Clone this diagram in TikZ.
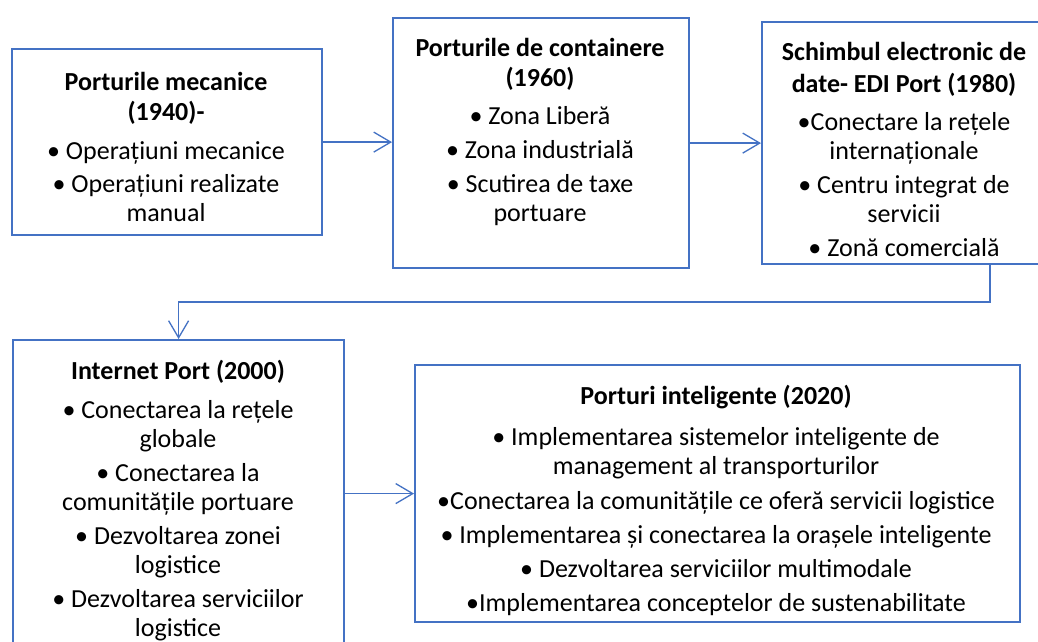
\documentclass[tikz,border=0pt]{standalone}
\usepackage{fontspec}
\setmainfont{Carlito}
\usetikzlibrary{arrows.meta}
\definecolor{obl}{HTML}{4472C4}
\tikzset{
  box/.style={draw=obl, line width=2.2pt, anchor=north west, inner sep=0pt, fill=white},
  txt/.style={anchor=north, inner sep=0pt, align=center, font=\fontsize{26}{29}\selectfont},
  conn/.style={draw=obl, line width=1.3pt, -{Straight Barb[length=17pt,width=20pt,line width=1.3pt]}}
}
\begin{document}
\begin{tikzpicture}[x=1pt,y=-1pt]
\clip (0,0) rectangle (1038,642);
\fill[white] (0,0) rectangle (1038,642);
% boxes
\node[box, minimum width=310, minimum height=186] (b1) at (11,48) {};
\node[box, minimum width=296, minimum height=250] (b2) at (392,17) {};
\node[box, minimum width=286, minimum height=242] (b3) at (761,21) {};
\node[box, minimum width=331, minimum height=330] (b4) at (12,339) {};
\node[box, minimum width=605, minimum height=257] (b5) at (414,364) {};
% texts
\node[txt] (t1) at (166,72) {\textbf{Porturile mecanice}\\[1pt]\textbf{(1940)-}\\[10pt]
  • Operațiuni mecanice\\[4pt]
  • Operațiuni realizate\\manual};
\node[txt] (t2) at (540,38) {\textbf{Porturile de containere}\\[1pt]\textbf{(1960)}\\[9pt]
  • Zona Liberă\\[5pt]
  • Zona industrială\\[5pt]
  • Scutirea de taxe\\portuare};
\node[txt] (t3) at (904,42) {\textbf{Schimbul electronic de}\\[3pt]\textbf{date- EDI Port (1980)}\\[9pt]
  •Conectare la rețele\\internaționale\\[5pt]
  • Centru integrat de\\servicii\\[5pt]
  • Zonă comercială};
\node[txt] (t4) at (178,360) {\textbf{Internet Port (2000)}\\[10pt]
  • Conectarea la rețele\\globale\\[5pt]
  • Conectarea la\\comunitățile portuare\\[5pt]
  • Dezvoltarea zonei\\logistice\\[5pt]
  • Dezvoltarea serviciilor\\logistice};
\node[txt] (t5) at (716,385) {\textbf{Porturi inteligente (2020)}\\[12pt]
  • Implementarea sistemelor inteligente de\\management al transporturilor\\[6pt]
  •Conectarea la comunitățile ce oferă servicii logistice\\[5pt]
  • Implementarea și conectarea la orașele inteligente\\[5pt]
  • Dezvoltarea serviciilor multimodale\\[5pt]
  •Implementarea conceptelor de sustenabilitate};
% connectors
\coordinate (c3) at (990,302);
\draw[conn] (b1.east) -- (b1.east -| b2.west);
\draw[conn] (b2.east) -- (b2.east -| b3.west);
\draw[conn] (c3 |- b3.south) -- (c3) -| (b4.north);
\draw[conn] (b4.east |- b5.west) -- (b5.west);
\end{tikzpicture}
\end{document}
